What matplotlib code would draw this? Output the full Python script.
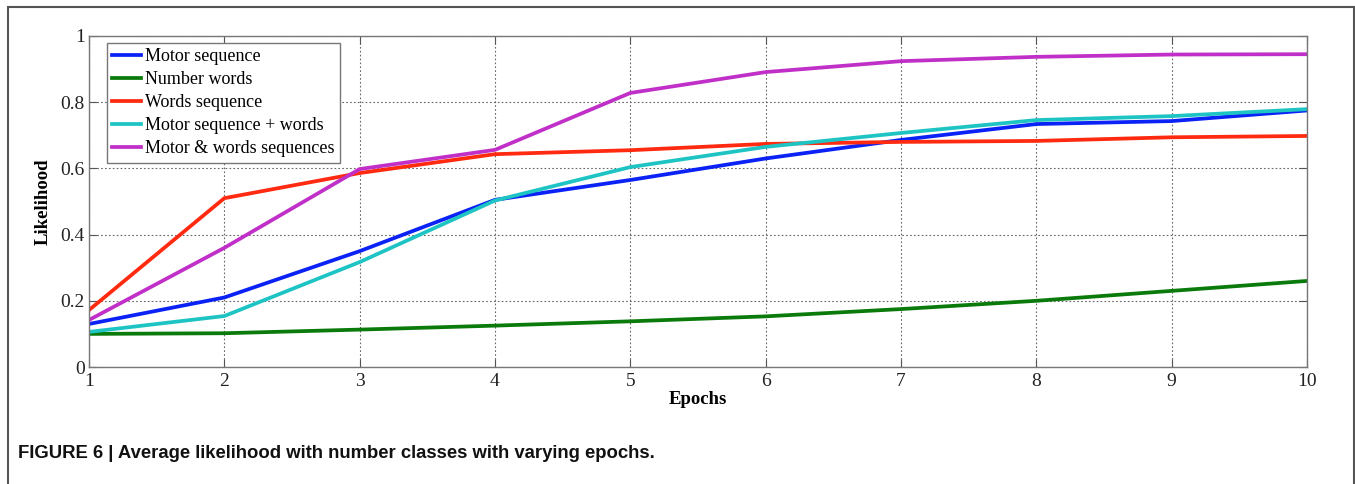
import matplotlib
matplotlib.use("Agg")
import matplotlib.pyplot as plt
from matplotlib.patches import Rectangle

epochs = [1, 2, 3, 4, 5, 6, 7, 8, 9, 10]
motor_sequence = [0.13, 0.21, 0.35, 0.505, 0.565, 0.63, 0.686, 0.734, 0.743, 0.775]
number_words = [0.10, 0.102, 0.113, 0.125, 0.138, 0.153, 0.175, 0.20, 0.23, 0.26]
words_sequence = [0.172, 0.51, 0.586, 0.643, 0.655, 0.674, 0.68, 0.683, 0.694, 0.698]
motor_plus_words = [0.106, 0.154, 0.317, 0.503, 0.604, 0.665, 0.707, 0.746, 0.758, 0.779]
motor_and_words = [0.142, 0.36, 0.598, 0.656, 0.828, 0.891, 0.924, 0.937, 0.944, 0.945]

labels = ["Motor sequence", "Number words", "Words sequence",
          "Motor sequence + words", "Motor & words sequences"]
series = [motor_sequence, number_words, words_sequence, motor_plus_words, motor_and_words]
colors = ["#0a22f5", "#0a7a0a", "#ff2a10", "#1ec4c4", "#c030c8"]

yticks = [0, 0.2, 0.4, 0.6, 0.8, 1]
ytick_labels = ["0", "0.2", "0.4", "0.6", "0.8", "1"]

W, H = 1355, 484
fig = plt.figure(figsize=(W / 100, H / 100), dpi=100)
fig.patch.set_facecolor("white")

ax = fig.add_axes([89 / W, 1 - 367 / H, (1307 - 89) / W, (367 - 36) / H])
for ys, lab, c in zip(series, labels, colors):
    ax.plot(epochs, ys, color=c, lw=2.7, label=lab, solid_joinstyle="miter")

ax.set_xlim(1, 10)
ax.set_ylim(0, 1)
ax.set_xticks(epochs)
ax.set_yticks(yticks)
ax.set_yticklabels(ytick_labels)
serif = ["Liberation Serif", "DejaVu Serif"]
for t in ax.get_xticklabels() + ax.get_yticklabels():
    t.set_fontfamily(serif)
    t.set_fontsize(14)
    t.set_color("#222222")
ax.tick_params(direction="in", length=6, width=0.8, color="#555555",
               top=True, right=True, pad=3)
ax.tick_params(axis="x", pad=4)
ax.grid(True, linestyle=(0, (1.5, 2)), color="#666666", lw=0.8)
for s in ax.spines.values():
    s.set_color("#777777")
    s.set_linewidth(1.0)

ax.set_xlabel("Epochs", fontfamily=serif, fontweight="bold", fontsize=13.5, labelpad=1)
ax.set_ylabel("Likelihood", fontfamily=serif, fontweight="bold", fontsize=13.5, labelpad=6)

leg = ax.legend(loc="upper left", bbox_to_anchor=((107 - 89) / 1218, (367 - 43) / 331),
                borderaxespad=0, prop={"family": serif, "size": 13},
                handlelength=1.6, handletextpad=0.2, labelspacing=0.33,
                borderpad=0.3, fancybox=False, framealpha=1, edgecolor="#777777")
leg.get_frame().set_linewidth(1.0)

fig.patches.append(Rectangle((8 / W, -0.02), (1354 - 8) / W, (H - 7) / H + 0.02,
                             transform=fig.transFigure, fill=False,
                             edgecolor="#555555", lw=1.5, clip_on=False))

fig.text(18 / W, 1 - 453 / H, "FIGURE 6 | Average likelihood with number classes with varying epochs.",
         fontfamily=["Liberation Sans", "DejaVu Sans"], fontweight="bold", fontsize=13.3,
         va="center", ha="left", color="#111111")

fig.savefig("out.png", dpi=100)
